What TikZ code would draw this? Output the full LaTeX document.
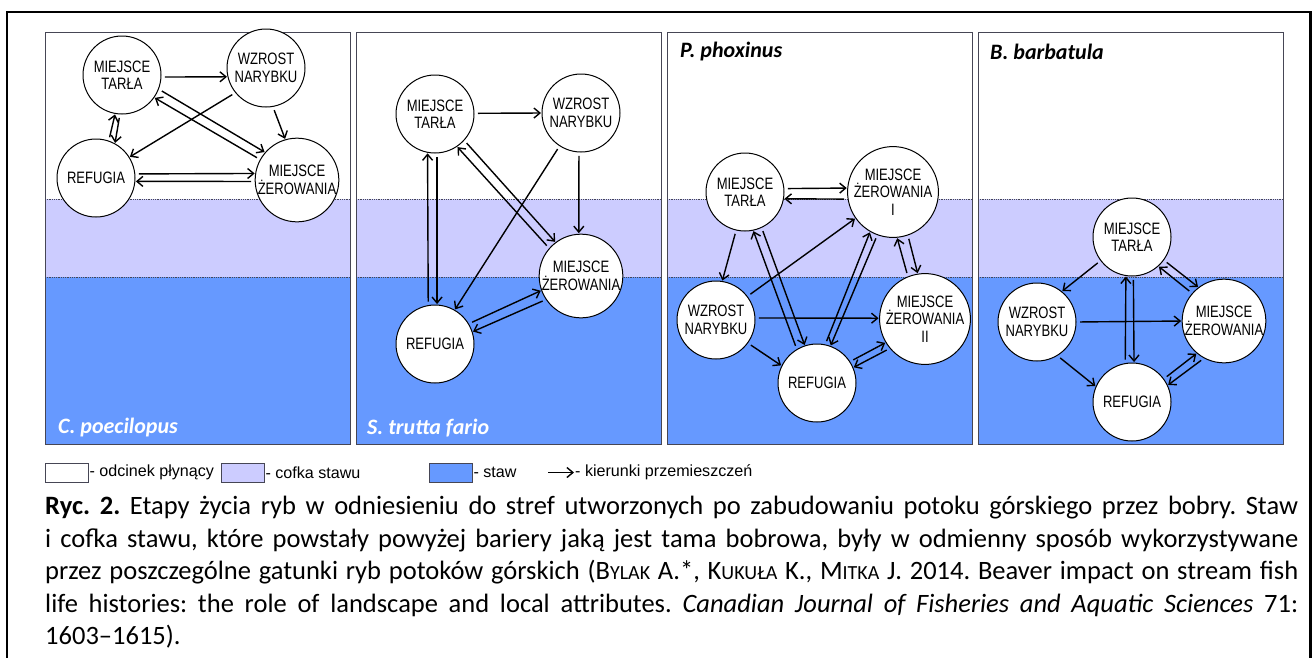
\documentclass[tikz,border=0pt]{standalone}
\usepackage{fontspec}
\setmainfont{Carlito}
\newfontfamily\nfont[FakeStretch=0.79]{Liberation Sans}
\newfontfamily\lfont{Liberation Sans}
\usetikzlibrary{arrows.meta,calc}
\definecolor{lil}{RGB}{204,204,255}
\definecolor{pond}{RGB}{102,153,255}
\definecolor{pline}{RGB}{70,70,85}
\newcommand\fsc[1]{{\fontsize{20}{20}\selectfont #1}}
\newcommand\lnk[4]{\draw[arr] (#1.#2) -- (#3.#4);}
\newcommand\panel[1]{%
  \fill[white] (#1,32) rectangle ++(305,167);
  \fill[lil] (#1,199) rectangle ++(305,78);
  \fill[pond] (#1,277) rectangle ++(305,167);
  \draw[pline,densely dotted,line width=0.8pt] (#1,199) -- ++(305,0) (#1,277) -- ++(305,0);
  \draw[pline,line width=0.9pt] (#1,32) rectangle ++(305,412);
}
\tikzset{
  st/.style={circle,draw=black,line width=1pt,fill=white,minimum size=78pt,inner sep=0pt,outer sep=0pt,align=center,font=\nfont\fontsize{16.5}{17.5}\selectfont},
  tip/.style={-{Straight Barb[length=6pt,width=10pt,line width=1.4pt]}},
  arr/.style={line width=1.4pt,tip,shorten <=4pt,shorten >=1pt},
  sp/.style={font=\bfseries\itshape\fontsize{22}{26}\selectfont,anchor=west,inner sep=0pt},
  legbox/.style={draw=pline,line width=0.8pt,minimum width=43pt,minimum height=19pt,inner sep=0pt},
  legtxt/.style={font=\lfont\fontsize{16.1}{19}\selectfont,anchor=west,inner sep=1pt},
}
\begin{document}
\begin{tikzpicture}[x=1pt,y=-1pt]
\useasboundingbox (0,0) rectangle (1312,657);
\fill[white] (0,0) rectangle (1312,657);
% frame
\draw[line width=2.4pt] (7,700) -- (7,12) -- (1310.5,12) -- (1310.5,700);
% panels
\panel{45}
\panel{356}
\panel{667}
\panel{978}
% species labels
\node[sp,white] (la) at (58,428) {C. poecilopus};
\node[sp,white] (lb) at (367,428) {S. trutta fario};
\node[sp] (lc) at (680,52) {P. phoxinus};
\node[sp] (ld) at (990,52) {B. barbatula};
% panel 1
\node[st] (aT) at (122,75) {MIEJSCE\\TARŁA};
\node[st] (aW) at (266,68) {WZROST\\NARYBKU};
\node[st] (aR) at (96,178) {REFUGIA};
\node[st] (aZ) at (297,180) {MIEJSCE\\ŻEROWANIA};
\lnk{aT}{-3}{aW}{-167}
\lnk{aW}{-141}{aR}{32}
\lnk{aT}{-21}{aZ}{139}
\lnk{aZ}{151}{aT}{-35}
\lnk{aW}{-80}{aZ}{106}
\lnk{aR}{71}{aT}{-100}
\lnk{aT}{-93}{aR}{61}
\lnk{aR}{6}{aZ}{171}
\lnk{aZ}{-178}{aR}{-5}
% panel 2
\node[st] (bT) at (435,114) {MIEJSCE\\TARŁA};
\node[st] (bW) at (581,113) {WZROST\\NARYBKU};
\node[st] (bZ) at (581,276) {MIEJSCE\\ŻEROWANIA};
\node[st] (bR) at (435,344) {REFUGIA};
\lnk{bT}{1}{bW}{180}
\lnk{bW}{-93}{bZ}{93}
\lnk{bW}{-123}{bR}{60}
\lnk{bT}{-42}{bZ}{127}
\lnk{bZ}{139}{bT}{-56}
\lnk{bR}{100}{bT}{-101}
\lnk{bT}{-87}{bR}{87}
\lnk{bR}{31}{bZ}{-160}
\lnk{bZ}{-146}{bR}{18}
% panel 3
\node[st] (cT) at (745,192) {MIEJSCE\\TARŁA};
\node[st] (cZ1) at (893,192) {MIEJSCE\\ŻEROWANIA\\I};
\node[st] (cW) at (716,320) {WZROST\\NARYBKU};
\node[st] (cZ2) at (925,319) {MIEJSCE\\ŻEROWANIA\\II};
\node[st] (cR) at (817,383) {REFUGIA};
\lnk{cT}{5}{cZ1}{175}
\lnk{cZ1}{-171}{cT}{-10}
\lnk{cT}{-103}{cW}{81}
\lnk{cR}{121}{cT}{-78}
\lnk{cT}{-65}{cR}{108}
\lnk{cW}{37}{cZ1}{-145}
\lnk{cR}{78}{cZ1}{-120}
\lnk{cZ1}{-110}{cR}{70}
\lnk{cZ2}{112}{cZ1}{-85}
\lnk{cZ1}{-71}{cZ2}{99}
\lnk{cW}{3}{cZ2}{179}
\lnk{cW}{-36}{cR}{154}
\lnk{cR}{33}{cZ2}{-149}
\lnk{cZ2}{-140}{cR}{23}
% panel 4
\node[st] (dT) at (1132,237) {MIEJSCE\\TARŁA};
\node[st] (dW) at (1037,322) {WZROST\\NARYBKU};
\node[st] (dZ) at (1224,321) {MIEJSCE\\ŻEROWANIA};
\node[st] (dR) at (1132,402) {REFUGIA};
\lnk{dT}{-143}{dW}{51}
\lnk{dT}{-36}{dZ}{127}
\lnk{dZ}{139}{dT}{-48}
\lnk{dR}{100}{dT}{-99}
\lnk{dT}{-88}{dR}{87}
\lnk{dW}{0}{dZ}{180}
\lnk{dW}{-59}{dR}{157}
\lnk{dR}{36}{dZ}{-130}
\lnk{dZ}{-118}{dR}{25}
% legend
\node[legbox,fill=white] (kw) at (66.5,472.5) {};
\node[legtxt] (tw) at (kw.east) {- odcinek płynący};
\node[legbox,fill=lil] (kl) at (242.5,472.5) {};
\node[legtxt] (tl) at (kl.east) {- cofka stawu};
\node[legbox,fill=pond] (kp) at (450.5,472.5) {};
\node[legtxt] (tp) at (kp.east) {- staw};
\coordinate (ka) at (548,472.5);
\coordinate (kb) at (574,472.5);
\draw[line width=1.4pt,tip] (ka) -- (kb);
\node[legtxt] (tk) at (kb) {- kierunki przemieszczeń};
% caption
\node[anchor=north west,inner sep=0pt,text width=1253pt,align=justify,
      font=\fontsize{26.5}{32.5}\selectfont] (cap) at (45,496)
{\frenchspacing\tolerance=9999\relax\hyphenpenalty=10000\relax
\textbf{Ryc. 2.} Etapy życia ryb w odniesieniu do stref utworzonych po zabudowaniu potoku górskiego  przez bobry. Staw\linebreak
i cofka stawu, które powstały powyżej bariery jaką jest tama bobrowa, były w odmienny sposób wykorzystywane\linebreak
przez poszczególne gatunki ryb potoków górskich (B\fsc{YLAK} A.*, K\fsc{UKUŁA} K., M\fsc{ITKA} J. 2014. Beaver impact on stream fish\linebreak
life histories: the role of landscape and local attributes. \textit{Canadian Journal of Fisheries and Aquatic Sciences} 71:\linebreak
1603–1615).};
\end{tikzpicture}
\end{document}
